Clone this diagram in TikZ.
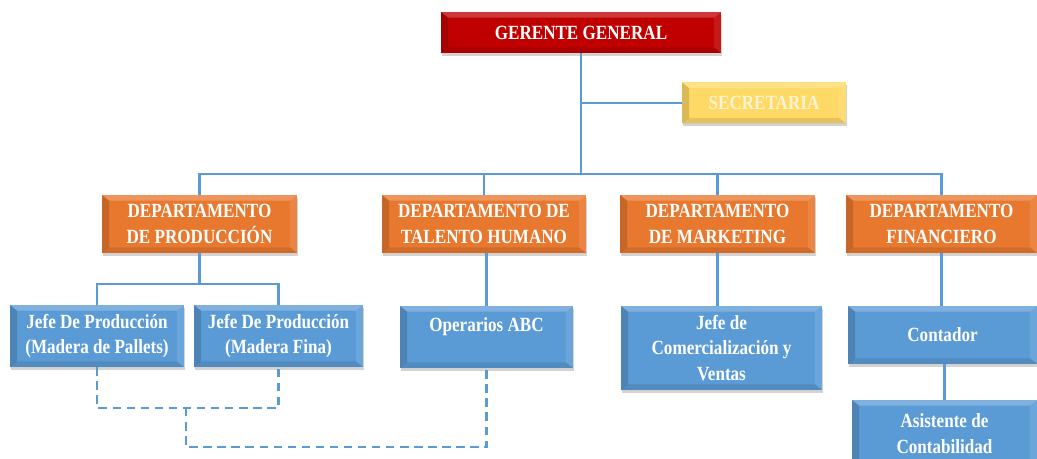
\documentclass[tikz,border=0pt]{standalone}
\usepackage{fontspec}
\setmainfont[FakeStretch=0.85]{Liberation Serif}
\usetikzlibrary{shadows}

\definecolor{gerred}{HTML}{C00000}
\definecolor{secyellow}{HTML}{FFD966}
\definecolor{deporange}{HTML}{E9782F}
\definecolor{jefblue}{HTML}{5B9BD5}
\definecolor{linblue}{HTML}{5B9BD5}
\definecolor{sectext}{HTML}{FFF4D2}

\tikzset{
  bevel/.style={path picture={
      \fill[white,opacity=.22] (path picture bounding box.north west) -- (path picture bounding box.north east)
        -- ([shift={(-5pt,-4pt)}]path picture bounding box.north east) -- ([shift={(5pt,-4pt)}]path picture bounding box.north west) -- cycle;
      \fill[black,opacity=.15] (path picture bounding box.north west) -- ([shift={(5pt,-4pt)}]path picture bounding box.north west)
        -- ([shift={(5pt,4pt)}]path picture bounding box.south west) -- (path picture bounding box.south west) -- cycle;
      \fill[white,opacity=.10] (path picture bounding box.north east) -- ([shift={(-5pt,-4pt)}]path picture bounding box.north east)
        -- ([shift={(-5pt,4pt)}]path picture bounding box.south east) -- (path picture bounding box.south east) -- cycle;
      \fill[black,opacity=.10] (path picture bounding box.south west) -- ([shift={(5pt,4pt)}]path picture bounding box.south west)
        -- ([shift={(-5pt,4pt)}]path picture bounding box.south east) -- (path picture bounding box.south east) -- cycle;
    }},
  orgbox/.style={rectangle, text=white, align=center, inner sep=2pt,
    font=\fontsize{14.3}{18.4}\selectfont\bfseries,
    drop shadow={opacity=.35, shadow xshift=1pt, shadow yshift=-2pt}, bevel},
  sz/.style 2 args={minimum width=#1*0.025cm, minimum height=#2*0.025cm},
  gerbox/.style={orgbox, fill=gerred},
  secbox/.style={orgbox, fill=secyellow, text=sectext},
  depbox/.style={orgbox, fill=deporange},
  jefbox/.style={orgbox, fill=jefblue},
  conn/.style={draw=linblue, line width=2pt},
  dashconn/.style={conn, dash pattern=on 6pt off 4pt}
}

\begin{document}
\begin{tikzpicture}[x=0.025cm, y=-0.025cm]
  \useasboundingbox (0,0) rectangle (1037,459);

  % nivel superior
  \node[gerbox, sz={280}{41}] (gerente) at (581,32.5) {GERENTE GENERAL};
  \node[secbox, sz={164}{41}] (secretaria) at (764,103) {SECRETARIA};

  % departamentos
  \node[depbox, sz={195}{58}] (prod) at (199.5,224) {DEPARTAMENTO\\DE PRODUCCIÓN};
  \node[depbox, sz={204}{58}] (talento) at (484,224) {DEPARTAMENTO DE\\TALENTO HUMANO};
  \node[depbox, sz={195}{58}] (marketing) at (717.5,224) {DEPARTAMENTO\\DE MARKETING};
  \node[depbox, sz={191}{58}] (fin) at (941.5,224) {DEPARTAMENTO\\FINANCIERO};

  % cargos
  \node[jefbox, sz={174}{62}] (pallets) at (97,336) {Jefe De Producción\\(Madera de Pallets)};
  \node[jefbox, sz={169}{62}] (fina) at (278.5,336) {Jefe De Producción\\(Madera Fina)};
  \node[jefbox, sz={173}{62}] (operarios) at (486.5,337) {Operarios ABC\\ \mbox{}};
  \node[jefbox, sz={201}{84}] (comercial) at (721.5,348) {Jefe de\\Comercialización y\\Ventas};
  \node[jefbox, sz={189}{58}] (contador) at (942.5,335) {Contador};
  \node[jefbox, sz={185}{68}] (asistente) at (944.5,434) {Asistente de\\Contabilidad};

  % niveles de las lineas
  \coordinate (bus) at (0,174);
  \coordinate (prodsplit) at (0,284);
  \coordinate (d1) at (0,408);
  \coordinate (d2) at (0,447);
  \coordinate (dj) at (186,408);

  \draw[conn] (gerente.south) -- (gerente.south |- bus);
  \draw[conn] (gerente.south |- secretaria.west) -- (secretaria.west);
  \draw[conn] (prod.north) -- (prod.north |- bus) -- (fin.north |- bus) -- (fin.north);
  \draw[conn] (talento.north) -- (talento.north |- bus);
  \draw[conn] (marketing.north) -- (marketing.north |- bus);

  \draw[conn] (prod.south) -- (prod.south |- prodsplit);
  \draw[conn] (pallets.north) -- (pallets.north |- prodsplit) -- (fina.north |- prodsplit) -- (fina.north);
  \draw[conn] (talento.south -| operarios.north) -- (operarios.north);
  \draw[conn] (marketing.south) -- (marketing.south |- comercial.north);
  \draw[conn] (fin.south) -- (fin.south |- contador.north);
  \draw[conn] (contador.south -| asistente.north) -- (asistente.north);

  \draw[dashconn] (pallets.south) -- (pallets.south |- d1) -- (fina.south |- d1) -- (fina.south);
  \draw[dashconn] (dj) -- (dj |- d2) -- (operarios.south |- d2) -- (operarios.south);
\end{tikzpicture}
\end{document}
